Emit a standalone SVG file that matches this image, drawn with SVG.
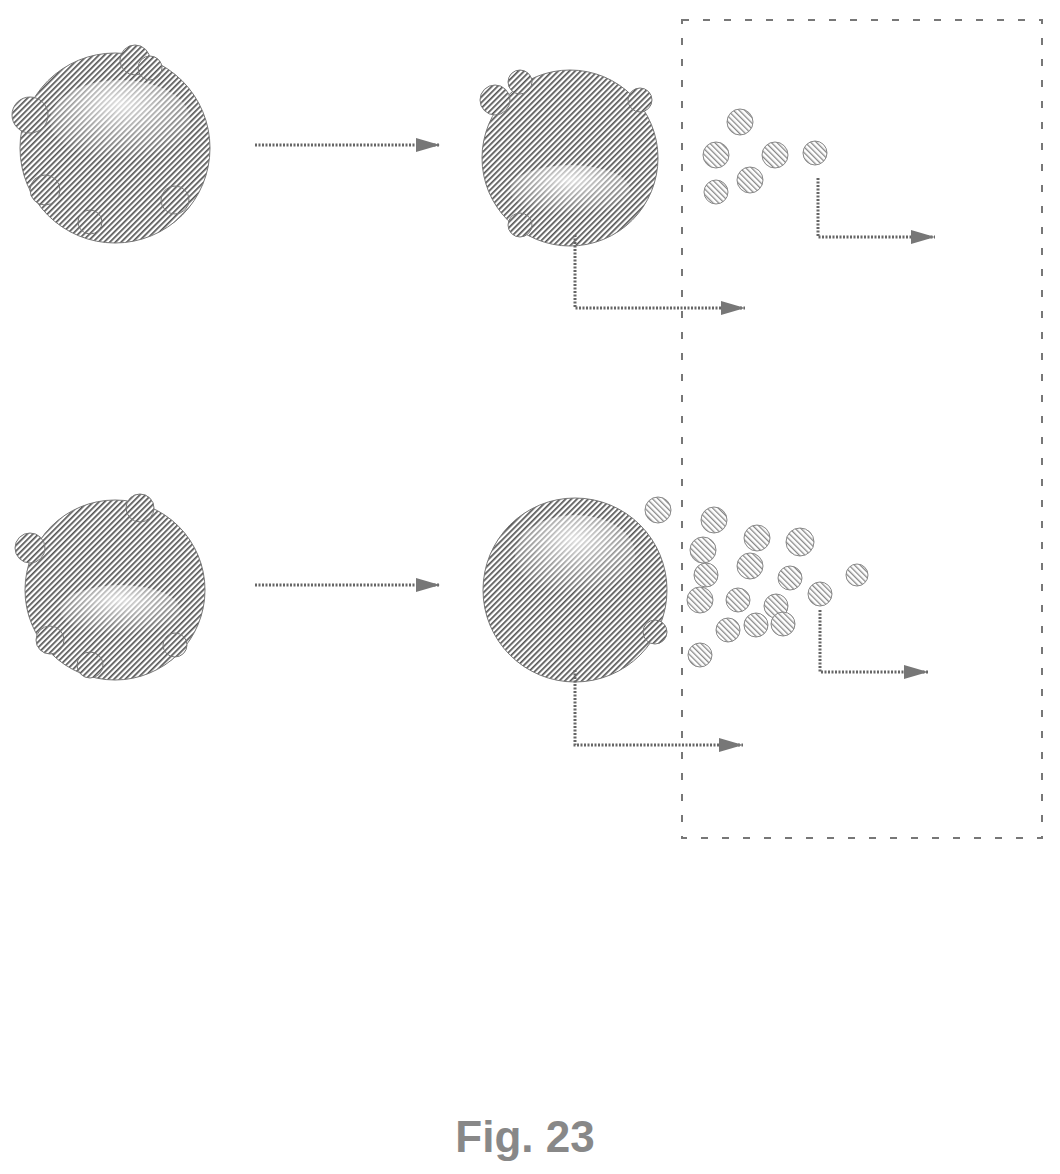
<svg xmlns="http://www.w3.org/2000/svg" width="1060" height="1174" viewBox="0 0 1060 1174">
<defs>
<pattern id="h" width="4" height="4" patternUnits="userSpaceOnUse" patternTransform="rotate(45)"><rect width="4" height="4" fill="#fff"/><rect width="1.7" height="4" fill="#555"/></pattern>
<pattern id="hl" width="4" height="4" patternUnits="userSpaceOnUse" patternTransform="rotate(-45)"><rect width="4" height="4" fill="#fff"/><rect width="1.3" height="4" fill="#888"/></pattern>
<radialGradient id="g" cx="0.5" cy="0.3" r="0.7"><stop offset="0" stop-color="#fff" stop-opacity="0.8"/><stop offset="1" stop-color="#fff" stop-opacity="0"/></radialGradient>
<marker id="a" markerUnits="userSpaceOnUse" markerWidth="26" markerHeight="18" refX="24" refY="9" orient="auto"><path d="M0,2 L24,9 L0,16 Z" fill="#777"/></marker>
<style>.c{fill:none;stroke:#666;stroke-width:3;stroke-dasharray:2 1.5}.b{fill:none;stroke:#777;stroke-width:2;stroke-dasharray:7 14}.p{fill:url(#h);stroke:#777;stroke-width:1}</style>
</defs>
<g id="cell1"><circle cx="115" cy="148" r="95" class="p"/><circle cx="30" cy="115" r="18" class="p"/><circle cx="135" cy="60" r="15" class="p"/><circle cx="150" cy="68" r="12" class="p"/><circle cx="45" cy="190" r="15" class="p"/><circle cx="175" cy="200" r="14" class="p"/><circle cx="90" cy="222" r="12" class="p"/><ellipse cx="120" cy="120" rx="70" ry="40" fill="url(#g)"/></g>
<g id="cell2"><circle cx="570" cy="158" r="88" class="p"/><circle cx="495" cy="100" r="15" class="p"/><circle cx="520" cy="82" r="12" class="p"/><circle cx="640" cy="100" r="12" class="p"/><circle cx="520" cy="225" r="12" class="p"/><ellipse cx="570" cy="190" rx="60" ry="25" fill="url(#g)"/></g>
<g id="cell3"><circle cx="115" cy="590" r="90" class="p"/><circle cx="30" cy="548" r="15" class="p"/><circle cx="140" cy="508" r="14" class="p"/><circle cx="50" cy="640" r="14" class="p"/><circle cx="90" cy="665" r="13" class="p"/><circle cx="175" cy="645" r="12" class="p"/><ellipse cx="120" cy="610" rx="60" ry="25" fill="url(#g)"/></g>
<g id="sphere"><circle cx="575" cy="590" r="92" class="p"/><ellipse cx="575" cy="555" rx="60" ry="40" fill="url(#g)"/><circle cx="655" cy="632" r="12" class="p"/></g>
<g id="particles" fill="url(#hl)" stroke="#888">
<circle cx="740" cy="122" r="13"/><circle cx="716" cy="155" r="13"/><circle cx="775" cy="155" r="13"/><circle cx="815" cy="153" r="12"/><circle cx="716" cy="192" r="12"/><circle cx="750" cy="180" r="13"/>
<circle cx="658" cy="510" r="13"/><circle cx="714" cy="520" r="13"/><circle cx="757" cy="538" r="13"/><circle cx="800" cy="542" r="14"/><circle cx="703" cy="550" r="13"/><circle cx="706" cy="575" r="12"/><circle cx="750" cy="566" r="13"/><circle cx="790" cy="578" r="12"/><circle cx="857" cy="575" r="11"/><circle cx="700" cy="600" r="13"/><circle cx="738" cy="600" r="12"/><circle cx="776" cy="606" r="12"/><circle cx="820" cy="594" r="12"/><circle cx="728" cy="630" r="12"/><circle cx="756" cy="625" r="12"/><circle cx="783" cy="624" r="12"/><circle cx="700" cy="655" r="12"/>
</g>
<g id="box"><rect x="682" y="20" width="360" height="818" class="b"/></g>
<g id="connectors">
<path class="c" d="M255,145 H440" marker-end="url(#a)"/>
<path class="c" d="M255,585 H440" marker-end="url(#a)"/>
<path class="c" d="M818,178 V237 H935" marker-end="url(#a)"/>
<path class="c" d="M575,235 V308 H745" marker-end="url(#a)"/>
<path class="c" d="M820,610 V672 H928" marker-end="url(#a)"/>
<path class="c" d="M575,670 V745 H743" marker-end="url(#a)"/>
</g>
<text x="525" y="1152" text-anchor="middle" font-family="Liberation Sans, sans-serif" font-size="44" font-weight="bold" fill="#888">Fig. 23</text>
</svg>
